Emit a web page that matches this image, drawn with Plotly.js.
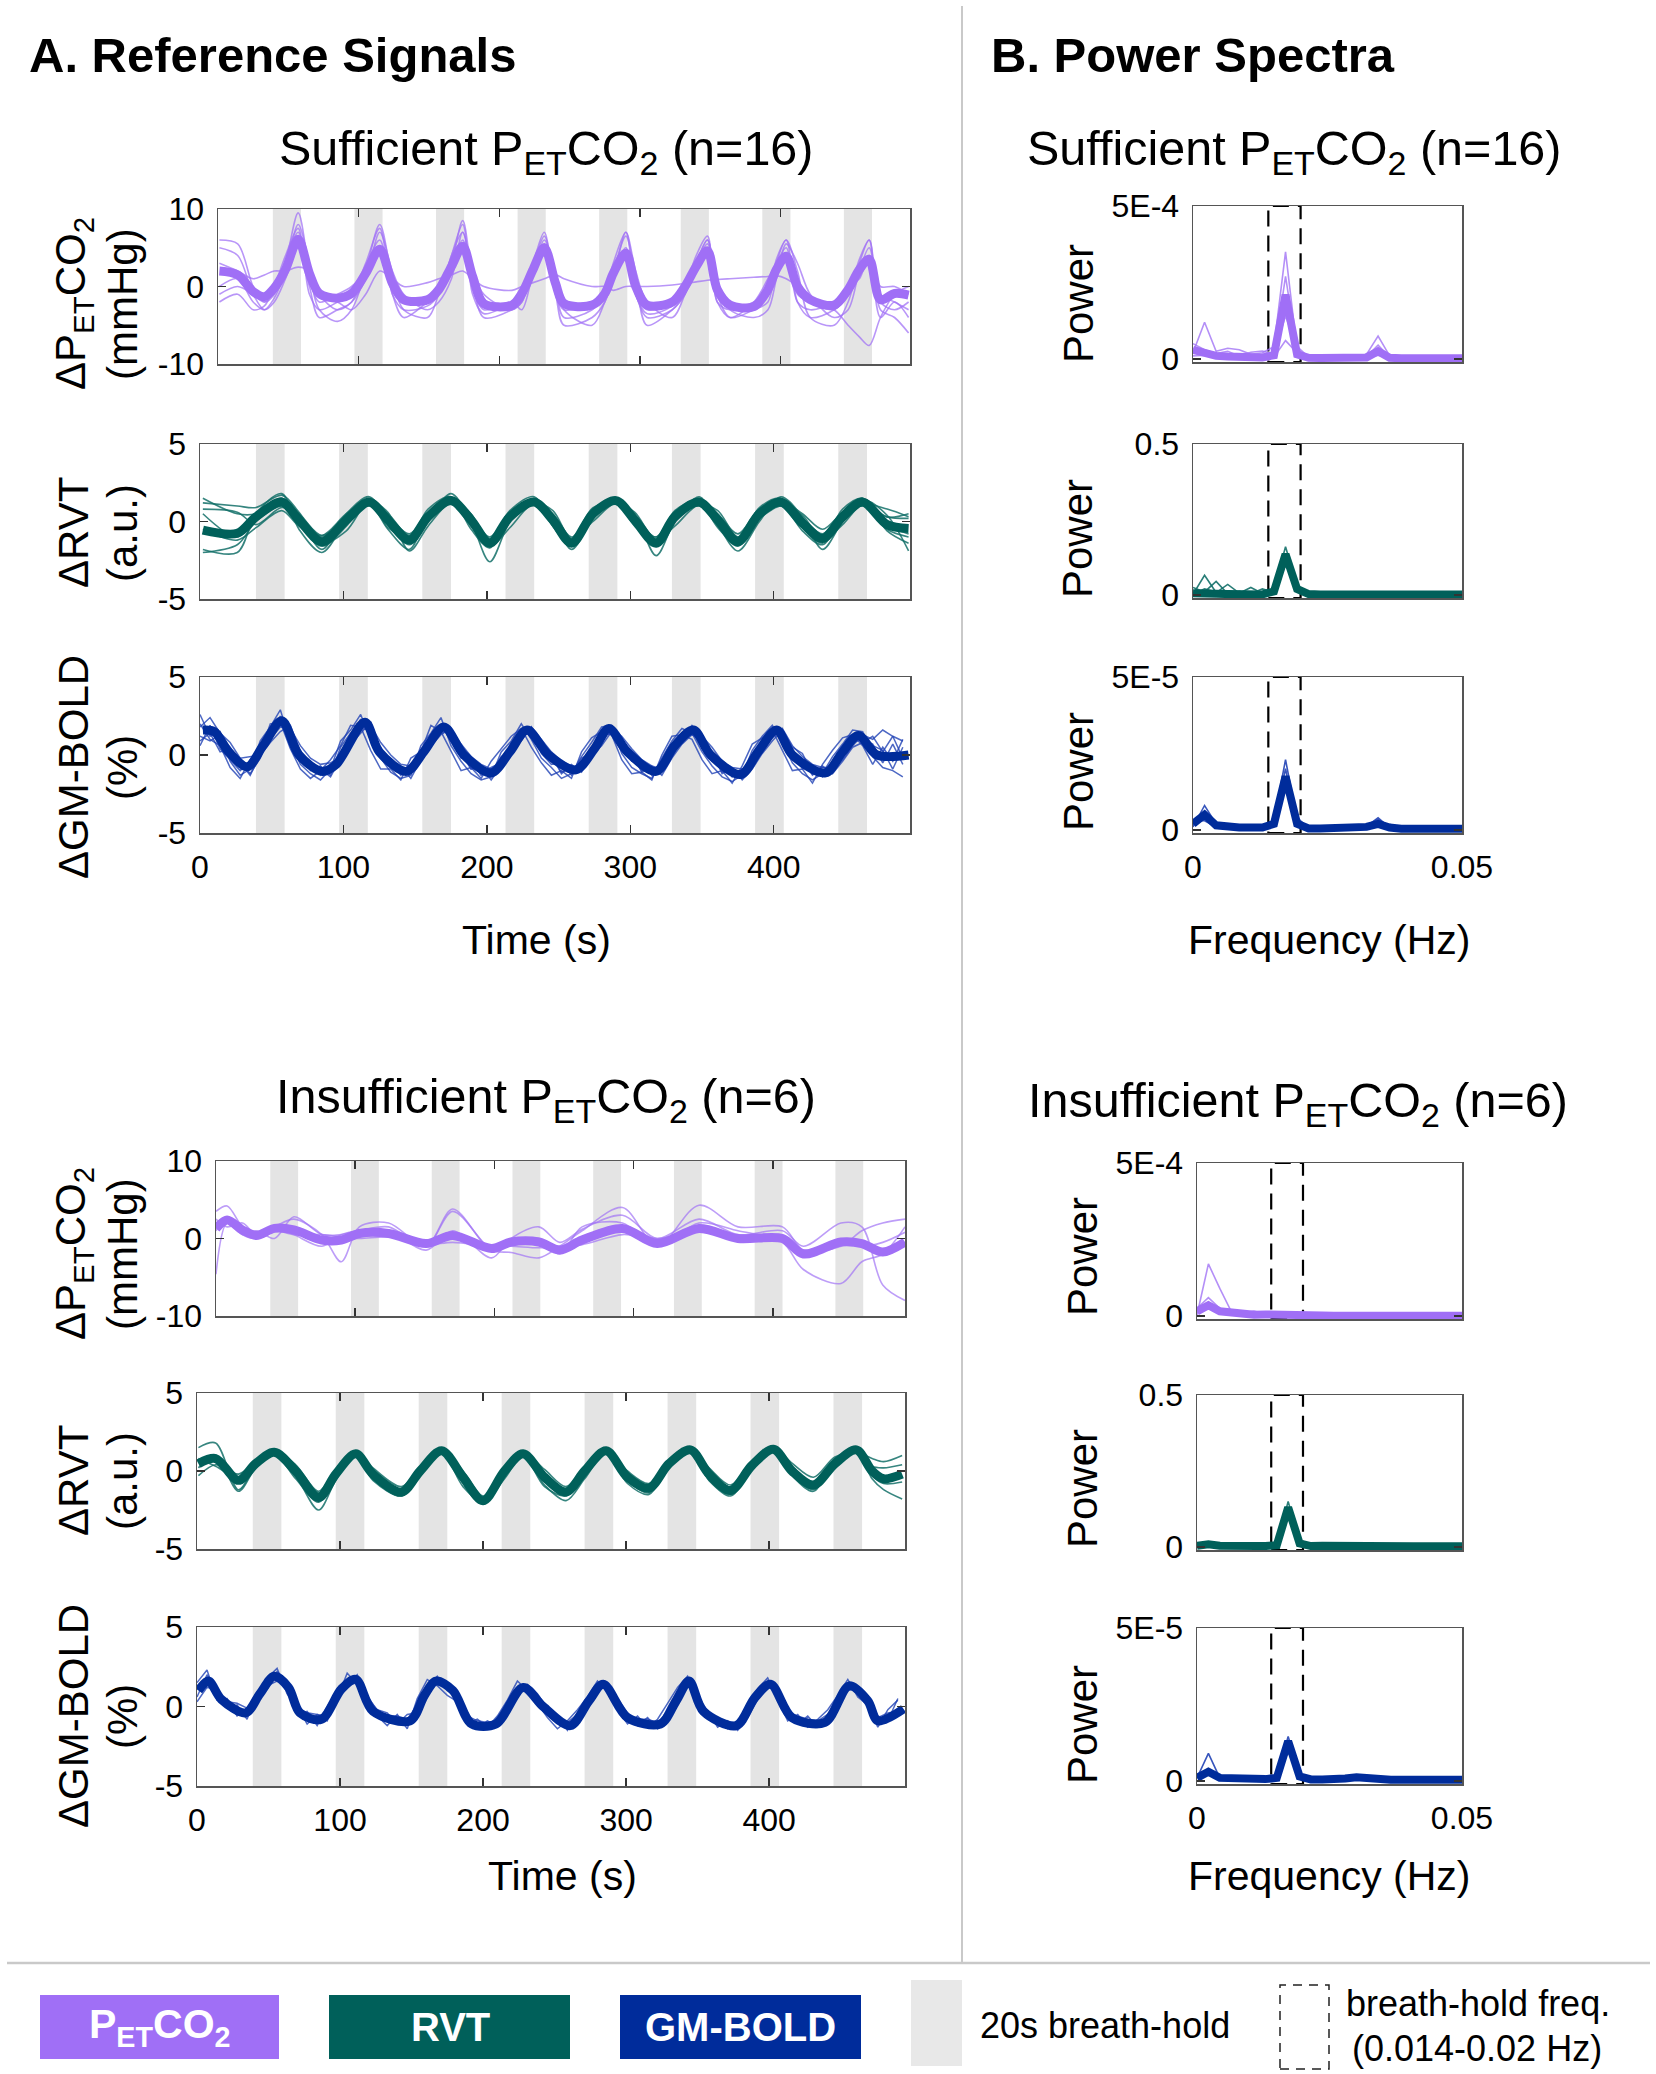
<!DOCTYPE html>
<html><head><meta charset="utf-8">
<script src="https://cdn.plot.ly/plotly-3.0.1.min.js"></script>
<style>html,body{margin:0;padding:0;background:#fff}#chart{width:1656px;height:2074px}</style>
</head><body><div id="chart"></div>
<script>
// ---------------- DATA ----------------
const breathHoldStart = [39, 97, 155, 213, 271, 329, 387, 445];
const breathHoldDur = 20;
const bhFreq = [0.014, 0.02];
const timeTicks = [0, 100, 200, 300, 400];

// Sufficient PETCO2 (mmHg)
const tPetSuf = [1,14,25,33,40,48,57,65,72,85,95,105,115,124,132,149,157,166,174,181,189,209,216,224,232,240,246,266,275,281,290,297,305,323,332,340,348,355,364,381,391,397,404,412,421,438,448,456,463,471,481,491];
const petSufMean = [2,1.5,-0.65,-1.3,-0.2,2.2,6.1,1.7,-0.9,-1.5,-0.9,1.7,4.8,0.4,-1.7,-1.7,-0.4,2.6,5.2,1.3,-2.2,-2.4,-0.9,2.2,5.0,0.4,-2.2,-2.4,-0.9,1.7,4.3,0,-2.4,-2,0,2.6,4.6,-0.4,-2.4,-2.6,-0.4,2.2,3.9,0,-1.7,-2.4,-0.4,2.2,3.5,-1.7,-0.9,-1.1];
const petSufSubj1 = [6,5.5,0,-2,-1,3,9.5,2,-3,-4.5,-3,2,8,1,-3,-4,-1,3,8.5,1,-4,-3,-2,2.5,6.5,0,-4,-3,-1,2,6.5,1,-5,-3,-1,3,6,-1,-4,-3,-2,3,6,2,-4,-5,-2,3,6,-3,-4,-6];
const petSufSubj2 = [0,1,-2,-3,-1.5,2,8,3,-1,-3,-2,1,7,2,-1,-3,-2,1,7,2,-1,-3,-2,2,6,1,-3,-5,-2,1,7,2,-2,-4,-1,3,6,0,-3,-4,-3,1,5.5,3,-1,-4,-3,2,5,-1,-2,-3];
const petSufSubj3 = [-1,0,-1,-2,0,3,7,1,-2,-1,0,2,5,0,-2,-2,0,3,6,1,-2,-3,-1,3,5.5,0,-2,-2,-1,2,5,-1,-3,-2,0,3,5.5,0,-2,-3,0,2.5,4,-1,-2,-3,-1,2,4,0,0,-1];
const petSufSubj4 = [3,2,1,1.5,2,2,2.5,2,-1,-2,-3,-1,2,1,0,0.5,1,1.5,2,1,0,-0.5,0,0.5,1,1.5,1,0,0,-0.5,0,0,0,0.2,0.4,0.6,0.8,0.9,1,1.2,1.3,1.4,1,0,-2,-3,-5,-6.5,-7.6,-4,-1,0];
const petSufSubj5 = [5,4,-1,-3,-2,1,5,0,-4,-3,-2,2.5,6,-1,-4,-2,-1,4,7,0,-3,-2,-3,1.5,4,-1,-5,-4,-2,1,3.5,-1,-4,-3,-1,2,4,-2,-4,-2,1,3,5,-2,-3,-2,0,1,4,-4,-2,-4];
const petSufSubj6 = [-2,-1,-3,-2.5,0,4,7.5,-1,-3,-2,-1,3,7.5,-1,-3,-2.5,-1,4,8,-1,-3.5,-2,-1,3,7,-1,-3,-2,-0.5,3,7,-1,-3.5,-2.5,0,4,6.5,-2,-3,-2,-1,3.5,6,-2,-4,-3,-1,3.5,6,-2,-3,-2];

// Sufficient RVT (a.u.)
const tRvtSuf = [2,26,39,57,69,85,102,118,131,146,159,175,189,202,216,233,246,259,274,290,303,318,331,348,361,375,390,405,420,434,448,462,479,494];
const rvtSufMean = [-0.55,-0.76,0.3,1.25,0.1,-1.3,0.1,1.25,0.1,-1.2,0.3,1.35,0.1,-1.4,0.3,1.25,0.1,-1.4,0.5,1.35,0.1,-1.4,0.3,1.25,0.1,-1.3,0.5,1.25,-0.1,-1.1,0.3,1.25,-0.2,-0.45];
const rvtSufSubj1 = [1.5,0.5,0.5,1.5,0.3,-1.8,0.5,1.6,0,-1.5,0,1.8,0,-2.6,0,1.5,0.3,-1.8,0.2,1.4,0.5,-2.2,0,1.6,-0.2,-1.9,0,1.6,0.3,-1.8,0,1.4,0.4,-1.9];
const rvtSufSubj2 = [-2,-1.5,0,1.0,0.5,-1.0,0.3,1.0,0.3,-0.8,0.5,1.1,0.3,-1.0,0.5,1.1,0.3,-1.2,0.6,1.2,0.2,-1.0,0.4,1.0,0.3,-1.0,0.7,1.0,0.2,-0.8,0.5,1.0,0.3,0.2];
const rvtSufSubj3 = [0.5,-1,0.3,1.5,0,-1.6,-0.3,1.5,-0.2,-1.4,0.2,1.4,-0.2,-1.2,0.1,1.4,-0.3,-1.6,0.3,1.5,-0.2,-1.6,0.1,1.5,-0.3,-1.6,0.3,1.4,-0.4,-1.4,0.1,1.5,-0.6,-1.4];
const rvtSufSubj4 = [-1.8,-2,0.5,1.8,-0.5,-2,0,1.1,-0.5,-1.8,0.4,1.5,-0.5,-1.7,0.5,1.3,-0.3,-1.6,0.8,1.3,-0.3,-1.3,0.5,1.2,-0.4,-1.5,0.6,1.1,-0.6,-1.5,0.4,1.3,-0.5,-1.0];
const rvtSufSubj5 = [0.8,0.6,-0.2,0.9,0.4,-0.9,0.2,1.2,0.5,-0.9,0.6,1.2,0.4,-1.1,0.2,1.2,0.5,-1.0,0.6,1.3,0.4,-1.1,0.7,1.4,0.5,-0.8,0.8,1.3,0.5,-0.5,0.6,1.4,0.3,0.5];
const rvtSufSubj6 = [1.2,1.0,0.9,1.7,0.6,-1.4,-0.6,1.3,0.6,-1.9,-0.3,1.2,0.5,-1.6,-0.4,1.2,0.7,-1.1,0.0,1.2,0.6,-1.2,-0.3,1.1,0.7,-1.0,0.2,1.0,0.4,-1.2,-0.2,1.1,0.8,0.3];
const rvtSufSubj7 = [-0.5,-1.2,-0.4,0.7,-0.3,-0.9,0.5,1.4,-0.4,-1.0,0.8,1.6,-0.3,-1.2,0.7,1.6,-0.1,-1.1,0.9,1.2,-0.1,-1.0,0.6,1.3,-0.2,-1.1,0.9,1.5,-0.3,-1.2,0.8,1.5,-0.2,-0.8];

// Sufficient GM-BOLD (%)
const tBoldSuf = [2,10,20,33,44,57,69,85,95,115,125,144,156,170,184,203,216,228,243,262,275,285,298,318,331,344,356,377,389,402,413,436,448,459,472,494];
const boldSufMean = [1.6,1.5,0.2,-0.75,0.6,2.2,0,-1.05,-0.6,2.1,0.2,-1.05,0.2,1.8,0,-1.15,0.2,1.6,0,-0.95,0.4,1.7,0.2,-1.05,0.6,1.6,0,-1.25,0.2,1.6,0,-1.15,0.2,1.25,0,0];
const tBoldSubj = [0,7,14,21,28,35,42,49,56,63,70,77,84,91,98,105,112,119,126,133,140,147,154,161,168,175,182,189,196,203,210,217,224,231,238,245,252,259,266,273,280,287,294,301,308,315,322,329,336,343,350,357,364,371,378,385,392,399,406,413,420,427,434,441,448,455,462,469,476,483,490];
const boldSufSubj1 = [2.6,1.2,1.5,-0.4,-1.3,-0.9,0.9,1.8,2.9,0.8,-0.6,-1.2,-1.6,-0.9,0.9,1.6,2.6,1.0,-0.2,-1.1,-1.5,-1.3,0.6,1.4,2.4,0.6,-0.4,-1.2,-1.6,-1.4,0.2,0.9,2.0,1.0,-0.2,-0.8,-1.5,-1.2,-0.1,0.8,1.8,1.9,0.1,-0.8,-1.2,-1.5,-0.2,0.9,1.7,1.4,0.2,-0.7,-1.4,-1.7,-1.3,0.3,1.2,1.9,0.8,-0.5,-1.2,-1.6,-1.2,-0.1,0.7,1.6,1.5,-0.1,-0.8,-1.0,-1.4];
const boldSufSubj2 = [1.8,2.4,1.4,0.8,-0.2,-0.1,0.0,1.0,1.8,1.7,0.6,-0.2,-0.6,-0.5,-0.2,0.9,1.7,1.9,0.8,0.0,-0.6,-0.7,-0.4,0.6,1.4,1.6,0.7,-0.1,-0.6,-0.9,-0.6,0.1,1.0,1.8,1.0,0.2,-0.4,-0.7,-0.8,-0.1,0.8,1.7,1.2,0.4,-0.3,-0.7,-0.9,0.1,0.9,1.9,1.2,0.5,-0.4,-0.8,-0.9,-0.8,0.2,1.1,1.7,0.6,-0.1,-0.6,-0.8,-0.9,-0.3,0.6,1.3,1.0,1.6,1.2,0.9];
const boldSufSubj3 = [0.6,1.9,0.4,-0.3,-1.0,-0.4,0.6,1.0,2.5,1.0,0.3,-1.0,-0.7,-1.3,0.5,1.4,1.7,1.6,-0.1,-0.4,-1.3,-0.6,0.0,1.3,1.6,1.4,-0.2,-0.3,-1.3,-0.8,-0.5,0.8,1.2,1.7,0.1,-0.6,-0.5,-1.3,-0.2,0.1,1.4,1.3,0.9,-0.4,-0.5,-1.3,-0.4,0.3,1.4,1.3,0.9,-0.4,-0.5,-1.4,-0.9,-0.5,0.8,1.2,1.5,-0.3,-0.3,-1.3,-0.8,-0.8,0.4,0.8,1.0,0.6,0.3,-0.9,0.5];
const boldSufSubj4 = [1.2,0.9,1.3,0.5,-0.4,-1.2,-0.2,1.5,1.9,1.4,-0.3,-0.4,-1.3,-1.1,0.1,1.0,2.3,1.1,0.5,-0.8,-0.8,-1.2,0.3,0.7,2.0,0.9,0.4,-0.9,-0.8,-1.3,-0.1,0.3,1.6,1.2,0.7,-0.1,-1.1,-0.8,-0.8,0.5,1.0,1.9,0.4,0.0,-1.0,-0.8,-0.9,0.6,1.0,1.8,0.5,0.2,-1.1,-0.9,-1.5,-0.1,0.4,1.6,1.0,0.3,-0.9,-0.8,-1.4,-0.4,0.0,1.2,1.0,0.7,-0.5,0.7,-0.6];
const boldSufSubj5 = [2.0,1.0,0.6,-0.8,-1.5,-0.3,0.2,2.0,2.1,0.4,-0.9,-1.5,-1.0,-0.3,0.6,1.9,1.8,0.3,-0.9,-0.9,-1.6,-0.2,0.2,1.9,1.5,0.2,-1.0,-0.8,-1.5,-0.4,0.4,1.2,1.7,0.5,-0.5,-1.3,-1.0,-1.5,0.2,1.1,1.5,1.3,-0.3,-1.2,-1.1,-1.6,0.0,1.2,1.3,1.0,-0.3,-1.2,-1.0,-1.8,-0.7,0.7,1.1,1.6,0.3,-1.0,-0.9,-1.8,-0.6,0.3,1.1,1.3,0.6,-0.6,0.5,-0.4,1.0];
const boldSufSubj6 = [0.9,1.4,0.2,0.4,-0.5,-1.3,0.0,0.8,1.5,1.9,0.2,-0.8,-0.9,-1.4,-0.2,0.7,1.4,2.1,0.3,-0.7,-0.7,-1.5,-0.3,0.6,1.3,1.7,0.1,-0.9,-0.7,-1.6,-0.7,0.5,0.9,1.8,0.8,0.0,-1.2,-0.6,-1.1,0.0,0.6,1.5,1.0,0.1,-1.1,-0.7,-1.3,-0.2,0.7,1.3,1.1,0.2,-1.2,-0.8,-1.6,-0.9,0.1,0.9,1.6,0.5,0.1,-1.2,-0.7,-1.2,-0.4,0.5,0.8,1.2,0.2,1.2,-0.2];

// Insufficient PETCO2 (mmHg)
const tPetIns = [0,8,19,29,42,56,76,90,103,124,151,170,198,212,232,247,263,292,317,347,375,407,422,449,464,479,495];
const petInsMean = [1.3,2.4,1.1,0.4,1.3,1.1,-0.2,-0.2,0.65,0.65,-0.65,0.4,-1.3,-0.45,-0.45,-1.5,-0.2,1.3,-0.65,1.3,0,0,-2.0,-0.45,-0.65,-1.75,-0.45];
const petInsSubj1 = [3.5,4.2,1.5,0.5,1.5,2.5,0.5,-3.0,1.5,2.0,-1.0,3.5,-1.5,-1.8,-2.5,-1.0,1.0,4.0,-1.0,4.3,1.5,1.5,-1.5,-1.0,1.0,2.0,2.5];
const petInsSubj2 = [-4.6,2.0,0.5,1.0,0.0,2.8,0.5,0.5,1.0,1.5,-1.0,3.8,-1.5,-0.5,0.0,-2.0,1.5,2.0,-1.0,2.0,1.0,-0.5,-4.0,-5.8,-3.0,-2.0,1.5];
const petInsSubj3 = [2.5,1.5,2.0,0.5,1.5,0.5,-1.0,0.5,1.0,1.0,-1.5,1.0,-2.5,0.0,1.5,-0.5,1.2,3.0,0.0,2.5,0.5,1.0,-1.0,2.0,1.5,-6.0,-8.0];
const petInsSubj4 = [1.0,2.8,0.5,0.0,1.0,0.5,0.5,0.2,0.0,0.2,-0.8,-0.5,-1.0,-1.0,-1.2,-1.0,-0.8,0.5,0.0,0.8,0.2,0.0,-1.5,-0.5,-1.0,-0.5,0.8];

// Insufficient RVT (a.u.)
const tRvtIns = [1,13,29,41,54,69,85,97,111,123,143,156,171,186,200,215,228,243,258,271,286,301,316,330,345,358,373,388,403,416,431,446,461,472,480,493];
const rvtInsMean = [0.47,0.8,-0.6,0.47,1.2,0,-1.7,-0.2,1.1,-0.2,-1.35,0,1.3,-0.4,-1.9,0,1.1,-0.4,-1.35,0,1.3,-0.4,-1.1,0.47,1.35,-0.2,-1.25,0.36,1.4,0,-0.9,0.47,1.35,0,-0.5,-0.2];
const rvtInsSubj1 = [1.5,1.8,-1.2,0.3,1.2,-0.3,-2.5,-0.6,1.0,-0.5,-1.6,-0.2,1.2,-0.8,-2.1,-0.3,1.0,-0.9,-1.9,-0.5,1.2,-0.8,-1.5,0.3,1.3,-0.6,-1.6,0.2,1.3,-0.3,-1.3,0.8,1.3,-0.5,-1.2,-1.8];
const rvtInsSubj2 = [-0.3,0.4,-0.2,0.6,1.3,0.4,-1.3,0.1,1.2,0.2,-1.0,0.3,1.4,0.0,-1.6,0.3,1.2,0.1,-1.0,0.3,1.4,0.0,-0.8,0.7,1.4,0.2,-0.9,0.6,1.5,0.5,-0.4,0.9,1.2,0.8,0.6,1.0];
const rvtInsSubj3 = [0.2,1.0,-1.3,0.2,1.1,-0.5,-2.0,-0.4,1.0,-0.6,-1.6,-0.3,1.2,-1.0,-2.0,-0.5,1.0,-1.0,-1.6,-0.4,1.3,-0.6,-1.4,0.2,1.2,-0.6,-1.5,0.1,1.3,-0.2,-1.2,0.3,1.2,-0.3,-0.8,-0.7];
const rvtInsSubj4 = [0.8,0.3,-0.4,0.7,1.1,0.2,-1.4,0.0,1.0,0.0,-1.2,0.2,1.2,-0.2,-1.7,0.2,1.1,-0.2,-1.2,0.2,1.2,-0.1,-1.0,0.6,1.3,0.0,-1.1,0.5,1.3,0.2,-0.8,0.4,1.4,0.3,0.2,0.4];

// Insufficient GM-BOLD (%)
const tBoldIns = [1,8,17,34,44,54,64,72,87,101,111,123,149,159,167,179,192,209,228,242,261,274,284,301,324,335,344,354,377,390,401,416,439,456,469,476,494];
const boldInsMean = [1.0,1.6,0.45,-0.4,0.8,1.9,1.2,-0.4,-0.8,1.1,1.7,-0.3,-0.9,0.7,1.6,1.0,-1.1,-1.1,1.2,0,-1.2,0.35,1.4,-0.7,-1.1,0.35,1.6,-0.3,-1.2,0.55,1.4,-0.7,-1.0,1.3,0.35,-0.9,-0.15];
const boldInsSubj1 = [1.5,2.3,0.4,0.5,-0.6,-0.2,0.2,1.8,2.4,0.8,0.0,-1.1,-0.5,-0.9,0.5,2.1,1.4,0.2,-0.6,-1.2,-0.5,-1.4,0.5,1.7,1.3,0.7,0.3,-1.1,-0.8,-1.3,-0.6,0.4,1.6,1.0,0.2,-0.7,-1.4,-0.9,-0.2,0.6,1.6,0.9,-0.2,-1.1,-0.6,-1.3,-0.8,0.2,1.2,1.9,0.2,-0.8,-0.8,-1.4,-1.0,-0.1,1.1,1.8,0.4,-0.9,-0.5,-1.3,-0.8,-0.2,0.7,1.7,0.6,0.1,-1.3,-0.2,0.4];
const boldInsSubj2 = [0.3,1.2,1.1,-0.1,0.1,-0.8,0.9,1.1,2.2,1.6,-0.5,-0.3,-1.2,0.0,1.0,1.2,2.0,0.6,-0.2,-0.4,-1.1,-0.5,-0.4,1.2,1.9,1.0,0.9,-0.5,-1.4,-0.9,-1.2,0.2,1.2,1.4,0.8,-0.1,-0.6,-1.5,-0.4,0.1,1.4,1.5,0.5,-0.4,-1.2,-0.7,-1.4,-0.1,1.0,1.4,0.7,-0.3,-1.3,-0.9,-1.5,-0.7,0.5,1.6,1.1,-0.2,-1.1,-0.6,-1.3,-0.8,0.5,1.0,1.2,0.6,-0.6,-0.9,0.5];
const boldInsSubj3 = [0.6,2.0,0.7,0.3,0.2,-0.1,0.5,1.3,1.6,1.5,-0.1,-0.4,-0.5,-0.6,0.9,1.3,1.5,0.7,-0.3,-0.6,-0.6,-0.8,0.1,0.8,1.5,1.3,0.5,-0.6,-0.9,-1.0,-0.9,0.2,0.8,1.3,0.4,-0.1,-0.8,-1.0,-0.5,0.5,1.0,1.3,0.3,-0.5,-0.8,-0.8,-1.0,-0.4,0.7,1.5,0.6,-0.4,-0.9,-1.0,-1.0,-0.2,0.8,1.3,0.9,-0.4,-0.6,-0.8,-0.9,-0.5,0.2,1.2,1.0,0.5,-0.7,-0.4,-0.3];

// Power spectra
const freqHz = [0,0.00215,0.0043,0.00645,0.0086,0.01075,0.0129,0.01505,0.0172,0.01935,0.0215,0.02365,0.0258,0.02795,0.0301,0.03225,0.0344,0.03655,0.0387,0.04085,0.043,0.04515,0.0473,0.04945,0.05];
const psPetSufMean = [3e-5,2e-5,1e-5,0.8e-5,0.6e-5,0.5e-5,0.5e-5,1.2e-5,2.1e-4,1.5e-5,0.4e-5,0.3e-5,0.3e-5,0.3e-5,0.3e-5,0.5e-5,2.5e-5,0.4e-5,0.2e-5,0.2e-5,0.2e-5,0.2e-5,0.2e-5,0.2e-5,0.2e-5];
const psPetSufSubj1 = [2e-5,1.2e-4,2.5e-5,3.5e-5,3e-5,1.5e-5,2e-5,4e-5,3.5e-4,3e-5,0.6e-5,0.4e-5,0.3e-5,0.4e-5,0.6e-5,1.5e-5,7.5e-5,1e-5,0.3e-5,0.2e-5,0.2e-5,0.2e-5,0.2e-5,0.2e-5,0.2e-5];
const psPetSufSubj2 = [5e-5,3e-5,1.8e-5,2.5e-5,1e-5,2.2e-5,2.6e-5,1.5e-5,2.7e-4,2.5e-5,0.5e-5,0.3e-5,0.2e-5,0.3e-5,0.2e-5,0.8e-5,4.5e-5,0.6e-5,0.2e-5,0.1e-5,0.1e-5,0.1e-5,0.1e-5,0.1e-5,0.1e-5];
const psPetSufSubj3 = [1e-5,1.2e-5,0.5e-5,0.6e-5,0.4e-5,0.8e-5,1e-5,0.6e-5,0.6e-4,2e-5,0.3e-5,0.2e-5,0.2e-5,0.2e-5,0.2e-5,0.3e-5,1.2e-5,0.3e-5,0.2e-5,0.2e-5,0.2e-5,0.2e-5,0.2e-5,0.2e-5,0.2e-5];
const psPetSufSubj4 = [3.5e-5,2.5e-5,0.8e-5,0.5e-5,1.5e-5,0.6e-5,0.5e-5,2e-5,1.4e-4,4e-5,0.6e-5,0.3e-5,0.3e-5,0.2e-5,0.3e-5,0.4e-5,3e-5,0.5e-5,0.2e-5,0.2e-5,0.2e-5,0.2e-5,0.2e-5,0.2e-5,0.2e-5];

const psRvtSufMean = [0.006,0.008,0.004,0.003,0.003,0.002,0.002,0.012,0.135,0.02,0.003,0.002,0.002,0.002,0.002,0.002,0.003,0.002,0.002,0.002,0.002,0.002,0.002,0.002,0.002];
const psRvtSufSubj1 = [0.002,0.065,0.008,0.035,0.006,0.025,0.005,0.02,0.16,0.03,0.004,0.002,0.002,0.002,0.002,0.003,0.004,0.002,0.002,0.002,0.002,0.002,0.002,0.002,0.002];
const psRvtSufSubj2 = [0.025,0.01,0.045,0.004,0.012,0.004,0.02,0.008,0.118,0.012,0.003,0.002,0.002,0.003,0.002,0.002,0.003,0.002,0.002,0.002,0.002,0.002,0.002,0.002,0.002];
const psRvtSufSubj3 = [0.004,0.02,0.01,0.012,0.004,0.008,0.004,0.01,0.1,0.025,0.003,0.002,0.002,0.002,0.002,0.002,0.002,0.002,0.002,0.002,0.002,0.002,0.002,0.002,0.002];

const psBoldSufMean = [2e-6,5e-6,1.5e-6,1e-6,0.8e-6,0.8e-6,0.8e-6,2e-6,1.75e-5,2e-6,0.5e-6,0.5e-6,0.5e-6,0.5e-6,0.5e-6,1e-6,2e-6,0.8e-6,0.4e-6,0.4e-6,0.4e-6,0.4e-6,0.4e-6,0.4e-6,0.4e-6];
const psBoldSufSubj1 = [1e-6,8e-6,2e-6,1e-6,1e-6,0.8e-6,1e-6,3e-6,2.3e-5,3e-6,0.6e-6,0.5e-6,0.5e-6,0.6e-6,0.5e-6,1.5e-6,3.5e-6,1e-6,0.4e-6,0.4e-6,0.4e-6,0.4e-6,0.4e-6,0.4e-6,0.4e-6];
const psBoldSufSubj2 = [3e-6,3e-6,1e-6,0.8e-6,0.6e-6,1e-6,0.6e-6,1.5e-6,1.4e-5,4e-6,0.5e-6,0.4e-6,0.5e-6,0.4e-6,0.4e-6,0.8e-6,1.5e-6,0.6e-6,0.4e-6,0.4e-6,0.4e-6,0.4e-6,0.4e-6,0.4e-6,0.4e-6];
const psBoldSufSubj3 = [1.5e-6,6e-6,1.5e-6,1.2e-6,0.8e-6,0.6e-6,0.8e-6,2.5e-6,2.0e-5,1.5e-6,0.5e-6,0.5e-6,0.4e-6,0.5e-6,0.6e-6,1.2e-6,4e-6,0.8e-6,0.4e-6,0.4e-6,0.4e-6,0.4e-6,0.4e-6,0.4e-6,0.4e-6];

const psPetInsMean = [1.5e-5,3.5e-5,1.5e-5,1e-5,0.8e-5,0.4e-5,0.5e-5,0.3e-5,0.4e-5,0.3e-5,0.2e-5,0.15e-5,0.1e-5,0.1e-5,0.1e-5,0.1e-5,0.1e-5,0.1e-5,0.1e-5,0.1e-5,0.1e-5,0.1e-5,0.1e-5,0.1e-5,0.1e-5];
const psPetInsSubj1 = [0.3e-5,1.7e-4,9e-5,1.5e-5,0.5e-5,0.8e-5,0.4e-5,0.3e-5,0.2e-5,0.2e-5,0.1e-5,0.1e-5,0.1e-5,0.1e-5,0.1e-5,0.1e-5,0.1e-5,0.1e-5,0.1e-5,0.1e-5,0.1e-5,0.1e-5,0.1e-5,0.1e-5,0.1e-5];
const psPetInsSubj2 = [2.5e-5,6e-5,2.5e-5,1.8e-5,1e-5,1.6e-5,0.6e-5,0.5e-5,1e-5,0.5e-5,0.3e-5,0.2e-5,0.2e-5,0.1e-5,0.1e-5,0.1e-5,0.1e-5,0.1e-5,0.1e-5,0.1e-5,0.1e-5,0.1e-5,0.1e-5,0.1e-5,0.1e-5];
const psPetInsSubj3 = [1e-5,2.5e-5,2e-5,0.6e-5,1.2e-5,0.3e-5,0.8e-5,0.2e-5,0.6e-5,0.3e-5,0.2e-5,0.1e-5,0.1e-5,0.1e-5,0.1e-5,0.1e-5,0.1e-5,0.1e-5,0.1e-5,0.1e-5,0.1e-5,0.1e-5,0.1e-5,0.1e-5,0.1e-5];

const psRvtInsMean = [0.004,0.009,0.004,0.003,0.003,0.003,0.003,0.006,0.13,0.012,0.003,0.004,0.003,0.004,0.003,0.003,0.003,0.002,0.002,0.002,0.002,0.002,0.002,0.002,0.002];
const psRvtInsSubj1 = [0.003,0.012,0.005,0.003,0.002,0.004,0.002,0.008,0.15,0.015,0.004,0.005,0.003,0.005,0.003,0.003,0.003,0.002,0.002,0.002,0.002,0.002,0.002,0.002,0.002];
const psRvtInsSubj2 = [0.006,0.006,0.003,0.004,0.004,0.002,0.004,0.004,0.11,0.01,0.002,0.003,0.003,0.003,0.003,0.002,0.002,0.002,0.002,0.002,0.002,0.002,0.002,0.002,0.002];

const psBoldInsMean = [1e-6,3e-6,1e-6,0.8e-6,0.6e-6,0.6e-6,0.6e-6,1e-6,1.3e-5,1.5e-6,0.5e-6,0.5e-6,0.5e-6,0.8e-6,1.2e-6,0.8e-6,0.5e-6,0.4e-6,0.4e-6,0.4e-6,0.4e-6,0.4e-6,0.4e-6,0.4e-6,0.4e-6];
const psBoldInsSubj1 = [1e-6,9e-6,1e-6,0.8e-6,0.6e-6,0.5e-6,0.6e-6,1e-6,1.1e-5,1.2e-6,0.5e-6,0.5e-6,0.5e-6,0.6e-6,0.9e-6,0.6e-6,0.5e-6,0.4e-6,0.4e-6,0.4e-6,0.4e-6,0.4e-6,0.4e-6,0.4e-6,0.4e-6];
const psBoldInsSubj2 = [1.5e-6,2e-6,1.2e-6,0.8e-6,0.6e-6,0.7e-6,0.6e-6,1.5e-6,1.45e-5,2e-6,0.5e-6,0.5e-6,0.5e-6,0.9e-6,1.4e-6,0.9e-6,0.5e-6,0.4e-6,0.4e-6,0.4e-6,0.4e-6,0.4e-6,0.4e-6,0.4e-6,0.4e-6];

// ---------------- STYLE ----------------
const FONT = 'Liberation Sans, Arial, Helvetica, sans-serif';
const C = {
  pet: '#a06ff6', petThin: '#a173f5',
  rvt: '#00605a', rvtThin: '#137069',
  bold: '#002c9b', boldThin: '#2142b5',
  hold: '#e4e4e4', axis: '#555555', sep: '#c9c9c9'
};
const W = 1656, H = 2074;
const X = p => p / W, Y = p => 1 - p / H;

// panel pixel boxes [left, right, top, bottom]
const boxes = {
  1: [218, 910, 209, 364], 2: [200, 910, 444, 599], 3: [200, 910, 677, 833],
  4: [216, 905, 1161, 1316], 5: [197, 905, 1393, 1549], 6: [197, 905, 1627, 1786],
  7: [1193, 1462, 206, 362], 8: [1193, 1462, 444, 598], 9: [1193, 1462, 677, 833],
  10: [1197, 1462, 1163, 1319], 11: [1197, 1462, 1395, 1550], 12: [1197, 1462, 1628, 1784]
};
const id = i => (i === 1 ? '' : String(i));

const traces = [];
function addLine(i, x, y, color, width, opacity, shape) {
  traces.push({
    type: 'scatter', mode: 'lines', x: x, y: y,
    xaxis: 'x' + id(i), yaxis: 'y' + id(i),
    line: { color: color, width: width, shape: shape || 'linear', smoothing: 0.9 },
    opacity: opacity, hoverinfo: 'skip', showlegend: false
  });
}

// time panels
[petSufSubj1, petSufSubj2, petSufSubj3, petSufSubj4, petSufSubj5, petSufSubj6].forEach(s => addLine(1, tPetSuf, s, C.petThin, 1.6, 0.75, 'spline'));
addLine(1, tPetSuf, petSufMean, C.pet, 9, 1, 'spline');
[rvtSufSubj1, rvtSufSubj2, rvtSufSubj3, rvtSufSubj4, rvtSufSubj5, rvtSufSubj6, rvtSufSubj7].forEach(s => addLine(2, tRvtSuf, s, C.rvtThin, 1.6, 0.85, 'spline'));
addLine(2, tRvtSuf, rvtSufMean, C.rvt, 9, 1, 'spline');
[boldSufSubj1, boldSufSubj2, boldSufSubj3, boldSufSubj4, boldSufSubj5, boldSufSubj6].forEach(s => addLine(3, tBoldSubj, s, C.boldThin, 1.5, 0.8, 'linear'));
addLine(3, tBoldSuf, boldSufMean, C.bold, 9, 1, 'spline');

[petInsSubj1, petInsSubj2, petInsSubj3, petInsSubj4].forEach(s => addLine(4, tPetIns, s, C.petThin, 1.6, 0.7, 'spline'));
addLine(4, tPetIns, petInsMean, C.pet, 9, 1, 'spline');
[rvtInsSubj1, rvtInsSubj2, rvtInsSubj3, rvtInsSubj4].forEach(s => addLine(5, tRvtIns, s, C.rvtThin, 1.6, 0.85, 'spline'));
addLine(5, tRvtIns, rvtInsMean, C.rvt, 9, 1, 'spline');
[boldInsSubj1, boldInsSubj2, boldInsSubj3].forEach(s => addLine(6, tBoldSubj, s, C.boldThin, 1.5, 0.8, 'linear'));
addLine(6, tBoldIns, boldInsMean, C.bold, 9, 1, 'spline');

// spectra panels
[psPetSufSubj1, psPetSufSubj2, psPetSufSubj3, psPetSufSubj4].forEach(s => addLine(7, freqHz, s, C.petThin, 1.6, 0.8));
addLine(7, freqHz, psPetSufMean, C.pet, 8, 1);
[psRvtSufSubj1, psRvtSufSubj2, psRvtSufSubj3].forEach(s => addLine(8, freqHz, s, C.rvtThin, 1.6, 0.9));
addLine(8, freqHz, psRvtSufMean, C.rvt, 8, 1);
[psBoldSufSubj1, psBoldSufSubj2, psBoldSufSubj3].forEach(s => addLine(9, freqHz, s, C.boldThin, 1.6, 0.9));
addLine(9, freqHz, psBoldSufMean, C.bold, 8, 1);
[psPetInsSubj1, psPetInsSubj2, psPetInsSubj3].forEach(s => addLine(10, freqHz, s, C.petThin, 1.6, 0.8));
addLine(10, freqHz, psPetInsMean, C.pet, 8, 1);
[psRvtInsSubj1, psRvtInsSubj2].forEach(s => addLine(11, freqHz, s, C.rvtThin, 1.6, 0.9));
addLine(11, freqHz, psRvtInsMean, C.rvt, 8, 1);
[psBoldInsSubj1, psBoldInsSubj2].forEach(s => addLine(12, freqHz, s, C.boldThin, 1.6, 0.9));
addLine(12, freqHz, psBoldInsMean, C.bold, 8, 1);

// ---------------- LAYOUT ----------------
const layout = {
  width: W, height: H, margin: { l: 0, r: 0, t: 0, b: 0 },
  paper_bgcolor: '#ffffff', plot_bgcolor: '#ffffff', showlegend: false,
  font: { family: FONT, color: '#000000', size: 32 },
  shapes: [], annotations: []
};

const yCfg = {
  1: { range: [-10, 10], vals: [-10, 0, 10], text: ['-10', '0', '10'] },
  2: { range: [-5, 5], vals: [-5, 0, 5], text: ['-5', '0', '5'] },
  3: { range: [-5, 5], vals: [-5, 0, 5], text: ['-5', '0', '5'] },
  4: { range: [-10, 10], vals: [-10, 0, 10], text: ['-10', '0', '10'] },
  5: { range: [-5, 5], vals: [-5, 0, 5], text: ['-5', '0', '5'] },
  6: { range: [-5, 5], vals: [-5, 0, 5], text: ['-5', '0', '5'] },
  7: { range: [-0.02 * 5e-4, 5e-4], vals: [0, 5e-4], text: ['0', '5E-4'] },
  8: { range: [-0.02 * 0.5, 0.5], vals: [0, 0.5], text: ['0', '0.5'] },
  9: { range: [-0.02 * 5e-5, 5e-5], vals: [0, 5e-5], text: ['0', '5E-5'] },
  10: { range: [-0.02 * 5e-4, 5e-4], vals: [0, 5e-4], text: ['0', '5E-4'] },
  11: { range: [-0.02 * 0.5, 0.5], vals: [0, 0.5], text: ['0', '0.5'] },
  12: { range: [-0.02 * 5e-5, 5e-5], vals: [0, 5e-5], text: ['0', '5E-5'] }
};
const xRange = { 1: [0, 492], 2: [0, 495], 3: [0, 495], 4: [0, 495], 5: [0, 495], 6: [0, 495] };
const showX = { 3: true, 6: true, 9: true, 12: true };

for (let i = 1; i <= 12; i++) {
  const b = boxes[i];
  const isTime = i <= 6;
  const common = {
    ticks: 'inside', ticklen: 8, tickwidth: 1.5, tickcolor: '#333333',
    showline: true, linecolor: C.axis, linewidth: 1.5, mirror: 'ticks',
    showgrid: false, zeroline: false, fixedrange: true,
    tickfont: { size: 32, family: FONT, color: '#000000' }
  };
  layout['xaxis' + id(i)] = Object.assign({}, common, {
    domain: [X(b[0]), X(b[1])], anchor: 'y' + id(i),
    range: isTime ? xRange[i] : [0, 0.05],
    tickmode: 'array',
    tickvals: isTime ? timeTicks : [0, 0.05],
    ticktext: isTime ? timeTicks.map(String) : ['0', '0.05'],
    showticklabels: !!showX[i], ticklabelstandoff: 5
  });
  layout['yaxis' + id(i)] = Object.assign({}, common, {
    domain: [Y(b[3]), Y(b[2])], anchor: 'x' + id(i),
    range: yCfg[i].range, tickmode: 'array',
    tickvals: yCfg[i].vals, ticktext: yCfg[i].text,
    ticklabelstandoff: 6
  });
  if (isTime) {
    breathHoldStart.forEach(s => layout.shapes.push({
      type: 'rect', xref: 'x' + id(i), yref: 'y' + id(i) + ' domain',
      x0: s, x1: s + breathHoldDur, y0: 0, y1: 1,
      fillcolor: C.hold, line: { width: 0 }, layer: 'below'
    }));
  } else {
    layout.shapes.push({
      type: 'rect', xref: 'x' + id(i), yref: 'y' + id(i) + ' domain',
      x0: bhFreq[0], x1: bhFreq[1], y0: 0, y1: 1,
      fillcolor: 'rgba(0,0,0,0)', line: { color: '#000000', width: 2.2, dash: '16px,9px' }, layer: 'below'
    });
  }
}

// separators
layout.shapes.push({ type: 'line', xref: 'paper', yref: 'paper', x0: X(962), x1: X(962), y0: Y(6), y1: Y(1963), line: { color: C.sep, width: 2 } });
layout.shapes.push({ type: 'line', xref: 'paper', yref: 'paper', x0: X(7), x1: X(1650), y0: Y(1963), y1: Y(1963), line: { color: C.sep, width: 2.5 } });

// legend boxes
function rectPx(x0, x1, y0, y1, fill, line) {
  layout.shapes.push({ type: 'rect', xref: 'paper', yref: 'paper', x0: X(x0), x1: X(x1), y0: Y(y1), y1: Y(y0), fillcolor: fill, line: line || { width: 0 } });
}
rectPx(40, 279, 1995, 2059, C.pet);
rectPx(329, 570, 1995, 2059, C.rvt);
rectPx(620, 861, 1995, 2059, C.bold);
rectPx(911, 962, 1980, 2066, '#e8e8e8');
rectPx(1280, 1329, 1985, 2069, 'rgba(0,0,0,0)', { color: '#222222', width: 1.5, dash: '9px,7px' });

function ann(text, xpx, ypx, size, opts) {
  layout.annotations.push(Object.assign({
    xref: 'paper', yref: 'paper', x: X(xpx), y: Y(ypx), text: text, showarrow: false,
    font: { size: size, family: FONT, color: '#000000' }, xanchor: 'center', yanchor: 'middle'
  }, opts || {}));
}
const PET = 'P<sub>ET</sub>CO<sub>2</sub>';
ann('<b>A. Reference Signals</b>', 27, 55, 49, { xanchor: 'left' });
ann('<b>B. Power Spectra</b>', 989, 55, 49, { xanchor: 'left' });
ann('Sufficient ' + PET + ' (n=16)', 546, 152, 48.5);
ann('Sufficient ' + PET + ' (n=16)', 1294, 152, 48.5);
ann('Insufficient ' + PET + ' (n=6)', 546, 1099, 48.5);
ann('Insufficient ' + PET + ' (n=6)', 1298, 1103, 48.5);

// left y-labels (two lines each)
const yl = [['Δ' + PET, '(mmHg)', 304], ['ΔRVT', '(a.u.)', 533], ['ΔGM-BOLD', '(%)', 767],
            ['Δ' + PET, '(mmHg)', 1254], ['ΔRVT', '(a.u.)', 1481], ['ΔGM-BOLD', '(%)', 1716]];
yl.forEach(r => {
  ann(r[0], 73, r[2], 42, { textangle: -90 });
  ann(r[1], 122, r[2], 42, { textangle: -90 });
});
[304, 539, 772].forEach(y => ann('Power', 1078, y, 42, { textangle: -90 }));
[1257, 1489, 1725].forEach(y => ann('Power', 1082, y, 42, { textangle: -90 }));
ann('Time (s)', 536, 940, 41);
ann('Time (s)', 562, 1876, 41);
ann('Frequency (Hz)', 1329, 940, 41);
ann('Frequency (Hz)', 1329, 1876, 41);

// legend labels
ann('<b>' + PET + '</b>', 160, 2027, 41, { font: { size: 41, family: FONT, color: '#ffffff' } });
ann('<b>RVT</b>', 450, 2027, 40, { font: { size: 40, family: FONT, color: '#ffffff' } });
ann('<b>GM-BOLD</b>', 740, 2027, 40, { font: { size: 40, family: FONT, color: '#ffffff' } });
ann('20s breath-hold', 978, 2025, 36, { xanchor: 'left' });
ann('breath-hold freq.', 1344, 2003, 36, { xanchor: 'left' });
ann('(0.014-0.02 Hz)', 1350, 2048, 36, { xanchor: 'left' });

Plotly.newPlot('chart', traces, layout, { displayModeBar: false, staticPlot: true });
</script></body></html>
